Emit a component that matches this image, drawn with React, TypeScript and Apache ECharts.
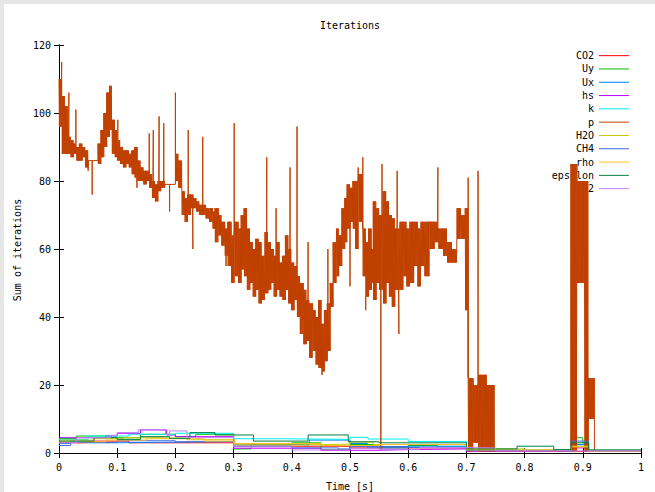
import React, { useEffect, useRef } from "react";
import * as echarts from "echarts";

const seriesNames = ["CO2", "Uy", "Ux", "hs", "k", "p", "H2O", "CH4", "rho", "epsilon", "O2"];
const seriesColors = ["#ff0000", "#00c000", "#0080ff", "#c000ff", "#00eeee", "#c04000", "#c8c800", "#4169e1", "#ffc020", "#008040", "#c080ff"];

// p: band segments [start time, low, high] (values oscillate between low and high) and isolated spikes
const pBands = [
  [0, 96, 110], [0.005, 88, 105], [0.01, 88, 102], [0.015, 88, 93], [0.02, 87, 92], [0.025, 88, 91],
  [0.03, 86, 90], [0.035, 86, 91], [0.04, 87, 90], [0.045, 84, 89], [0.05, 86, 86], [0.067, 85, 91],
  [0.072, 87, 95], [0.077, 90, 100], [0.082, 93, 106], [0.087, 95, 108], [0.091, 88, 98], [0.096, 87, 95],
  [0.1, 86, 92], [0.105, 85, 90], [0.11, 84, 89], [0.115, 85, 89], [0.12, 84, 88], [0.125, 82, 89],
  [0.13, 81, 90], [0.135, 80, 86], [0.14, 80, 84], [0.145, 79, 83], [0.15, 80, 83], [0.155, 78, 82],
  [0.16, 75, 80], [0.165, 74, 79], [0.17, 77, 80], [0.175, 78, 80], [0.182, 79, 79], [0.2, 80, 88],
  [0.205, 78, 86], [0.211, 70, 77], [0.216, 68, 75], [0.221, 70, 76], [0.226, 72, 76], [0.231, 72, 75],
  [0.236, 71, 74], [0.241, 70, 73], [0.246, 70, 73], [0.252, 69, 72], [0.258, 68, 72], [0.264, 66, 71],
  [0.268, 62, 72], [0.274, 64, 70], [0.279, 61, 68], [0.285, 58, 66], [0.29, 55, 68], [0.296, 50, 64],
  [0.302, 52, 68], [0.308, 50, 66], [0.313, 54, 70], [0.318, 52, 72], [0.323, 48, 66], [0.328, 50, 62],
  [0.333, 46, 60], [0.338, 48, 63], [0.343, 44, 62], [0.348, 45, 58], [0.354, 47, 65], [0.359, 48, 62],
  [0.364, 50, 60], [0.369, 46, 58], [0.374, 48, 62], [0.379, 46, 56], [0.384, 45, 58], [0.389, 48, 64],
  [0.394, 44, 60], [0.399, 42, 56], [0.404, 45, 55], [0.409, 40, 52], [0.414, 35, 50], [0.42, 32, 48],
  [0.425, 33, 45], [0.43, 28, 44], [0.436, 30, 42], [0.441, 26, 40], [0.446, 25, 45], [0.451, 24, 38],
  [0.456, 27, 42], [0.461, 30, 44], [0.466, 43, 50], [0.471, 50, 62], [0.477, 52, 66], [0.481, 55, 64],
  [0.486, 60, 72], [0.491, 62, 75], [0.495, 66, 79], [0.5, 68, 78], [0.505, 66, 80], [0.509, 60, 80],
  [0.515, 68, 82], [0.522, 52, 66], [0.527, 46, 62], [0.532, 48, 66], [0.537, 50, 60], [0.54, 45, 74],
  [0.545, 50, 72], [0.55, 48, 70], [0.557, 44, 77], [0.562, 50, 74], [0.567, 46, 70], [0.572, 43, 69],
  [0.577, 48, 66], [0.586, 48, 68], [0.592, 52, 68], [0.597, 49, 66], [0.603, 50, 68], [0.61, 55, 68],
  [0.616, 49, 66], [0.622, 55, 68], [0.628, 52, 68], [0.637, 60, 68], [0.645, 62, 68], [0.652, 60, 66],
  [0.66, 58, 66], [0.667, 56, 62], [0.675, 56, 60], [0.684, 63, 72], [0.69, 63, 70], [0.698, 42, 72],
  [0.703, 0.5, 22], [0.712, 3, 20], [0.72, 0.5, 23], [0.735, 0.5, 20], [0.748, 0.6, 0.6], [0.88, 0.5, 85],
  [0.89, 50, 80], [0.903, 0.5, 80], [0.91, 10, 22], [0.92, 0.6, 0.6],
];
const pSpikeT = [0.0046, 0.017, 0.029, 0.05, 0.057, 0.101, 0.134, 0.155, 0.162, 0.172, 0.18, 0.19, 0.2, 0.222, 0.23, 0.247, 0.287, 0.301, 0.357, 0.373, 0.397, 0.409, 0.428, 0.452, 0.462, 0.5, 0.514, 0.522, 0.527, 0.553, 0.555, 0.581, 0.584, 0.651, 0.703, 0.72, 0.88];
const pSpikeV = [115, 106, 101, 83, 76, 98, 78, 94, 95, 99, 97, 71, 106, 95, 60, 93, 55, 97, 87, 72, 84, 96, 62, 23, 60, 49, 84, 87, 42, 1, 85, 83, 35, 84, 81, 83, 85];

// low series: [time, value] steps
const co2 = [[0, 3], [0.05, 3.5], [0.12, 3], [0.3, 2], [0.5, 1.5], [0.7, 1], [0.75, 0.5], [1, 0.5]];
const uy = [[0, 4.3], [0.03, 5], [0.09, 4.5], [0.14, 5.5], [0.2, 4.8], [0.235, 5.5], [0.3, 1.2], [0.33, 2.5], [0.4, 3], [0.45, 1], [0.5, 2.5], [0.54, 1.8], [0.6, 2.2], [0.65, 1.8], [0.7, 1.2], [0.71, 0.8], [0.88, 4.5], [0.9, 3], [0.91, 0.8], [1, 0.8]];
const ux = [[0, 2.8], [0.02, 3.5], [0.05, 3], [0.1, 3.2], [0.2, 3.4], [0.3, 2.6], [0.385, 2.4], [0.43, 3.8], [0.5, 2.8], [0.53, 1.5], [0.6, 2], [0.7, 0.8], [0.88, 2.5], [0.905, 0.6], [1, 0.6]];
const hs = [[0, 4.5], [0.08, 5], [0.1, 5.8], [0.14, 6.8], [0.185, 5.3], [0.2, 4.8], [0.3, 1.4], [0.45, 0.8], [0.55, 1], [0.6, 1.2], [0.7, 0.5], [0.88, 1.5], [0.91, 0.5], [1, 0.5]];
const kSeries = [[0, 4], [0.05, 5], [0.12, 5.5], [0.2, 5.8], [0.3, 4.2], [0.38, 4], [0.5, 4.6], [0.531, 4.1], [0.6, 3.4], [0.7, 1], [0.75, 0.8], [0.88, 2], [0.91, 0.8], [1, 0.8]];
const h2o = [[0, 3.8], [0.06, 4.2], [0.11, 4.5], [0.17, 4.3], [0.22, 3.9], [0.302, 2.4], [0.42, 2.6], [0.5, 3.2], [0.54, 2.5], [0.7, 1.2], [0.8, 0.9], [0.88, 2], [0.91, 0.6], [1, 0.6]];
const ch4 = [[0, 2.2], [0.02, 3.1], [0.1, 3.6], [0.2, 3.3], [0.3, 2], [0.4, 1.5], [0.48, 1.2], [0.5, 1.9], [0.6, 1.6], [0.7, 0.7], [0.88, 3.5], [0.91, 0.7], [1, 0.7]];
const rho = [[0, 3.3], [0.08, 3.8], [0.15, 4.2], [0.25, 3.5], [0.3, 2.8], [0.45, 2.2], [0.55, 2.5], [0.7, 0.9], [0.88, 1.8], [0.91, 0.6], [1, 0.6]];
const epsilon = [[0, 3.5], [0.06, 4.5], [0.1, 4], [0.14, 4.8], [0.19, 4.3], [0.225, 6], [0.268, 5.3], [0.334, 3.5], [0.428, 5.3], [0.497, 3.3], [0.55, 3], [0.7, 1.2], [0.787, 2], [0.85, 1], [0.88, 3], [0.91, 0.9], [1, 0.9]];
const o2 = [[0, 3], [0.03, 4.5], [0.088, 5.2], [0.1, 6], [0.136, 6.8], [0.183, 5.5], [0.19, 6.5], [0.22, 4.5], [0.3, 1.8], [0.4, 0.9], [0.5, 1.4], [0.55, 1], [0.62, 1.6], [0.7, 1.5], [0.75, 0.6], [1, 0.6]];

const FONT = "DejaVu Sans Mono";

function buildP(): number[][] {
  const pts: number[][] = [];
  const d = 0.0007;
  for (let i = 0; i < pBands.length; i++) {
    const [t0, lo, hi] = pBands[i];
    const t1 = i + 1 < pBands.length ? pBands[i + 1][0] : 1;
    if (lo === hi) {
      pts.push([t0, lo]);
      continue;
    }
    let k = 0;
    for (let t = t0; t < t1 - 1e-9; t += d, k++) pts.push([t, k % 2 === 0 ? hi : lo]);
  }
  pts.push([1, pBands[pBands.length - 1][1]]);
  for (let j = 0; j < pSpikeT.length; j++) {
    const ts = pSpikeT[j];
    let idx = 0;
    for (let i = 0; i < pBands.length; i++) if (pBands[i][0] <= ts) idx = i;
    const base = pSpikeV[j] > pBands[idx][2] ? pBands[idx][2] : pBands[idx][1];
    pts.push([ts, base], [ts, pSpikeV[j]], [ts, base]);
  }
  return pts.sort((a, b) => a[0] - b[0]);
}

export default function App() {
  const ref = useRef<HTMLDivElement>(null);
  useEffect(() => {
    if (!ref.current) return;
    const chart = echarts.init(ref.current, undefined, { renderer: "svg" });
    const dataSets = [co2, uy, ux, hs, kSeries, buildP(), h2o, ch4, rho, epsilon, o2];
    const axisCommon = {
      axisLine: { show: true, lineStyle: { color: "#000", width: 1 } },
      axisTick: { show: true, inside: true, length: 5, lineStyle: { color: "#000" } },
      splitLine: { show: false },
    };
    const labelStyle = { color: "#000", fontFamily: FONT, fontSize: 10 };
    chart.setOption({
      animation: false,
      backgroundColor: "#fff",
      grid: { left: 55, top: 41, right: 14, bottom: 39 },
      xAxis: [
        { type: "value", min: 0, max: 1, interval: 0.1, position: "bottom", ...axisCommon, axisLabel: { ...labelStyle, margin: 9 } },
        { type: "value", min: 0, max: 1, interval: 0.1, position: "top", ...axisCommon, axisLabel: { show: false } },
      ],
      yAxis: [
        { type: "value", min: 0, max: 120, interval: 20, position: "left", ...axisCommon, axisLabel: { ...labelStyle, margin: 8 } },
        { type: "value", min: 0, max: 120, interval: 20, position: "right", ...axisCommon, axisLabel: { show: false } },
      ],
      legend: {
        orient: "vertical",
        right: 26,
        top: 45,
        padding: 0,
        itemGap: 0,
        itemWidth: 30,
        itemHeight: 1,
        align: "right",
        icon: "rect",
        z: 1,
        selectedMode: false,
        textStyle: { color: "#000", fontFamily: FONT, fontSize: 10, lineHeight: 13.3 },
        data: seriesNames,
      },
      graphic: [
        { type: "text", x: 346, y: 21, style: { text: "Iterations", font: `10px '${FONT}'`, fill: "#000", textAlign: "center", textVerticalAlign: "middle" } },
        { type: "text", x: 346, y: 482, style: { text: "Time [s]", font: `10px '${FONT}'`, fill: "#000", textAlign: "center", textVerticalAlign: "middle" } },
        { type: "text", x: 13, y: 246, rotation: Math.PI / 2, style: { text: "Sum of iterations", font: `10px '${FONT}'`, fill: "#000", textAlign: "center", textVerticalAlign: "middle" } },
      ],
      series: seriesNames.map((name, i) => ({
        name,
        type: "line",
        step: "end",
        data: dataSets[i],
        showSymbol: false,
        symbol: "none",
        z: 2,
        color: seriesColors[i],
        lineStyle: { color: seriesColors[i], width: 1 },
        emphasis: { disabled: true },
      })),
    });
    return () => chart.dispose();
  }, []);
  return (
    <div style={{ position: "fixed", left: 0, top: 0, width: 655, height: 492, background: "#e6e6e6" }}>
      <div ref={ref} style={{ position: "absolute", left: 4, top: 4, width: 651, height: 488, background: "#fff" }} />
    </div>
  );
}
